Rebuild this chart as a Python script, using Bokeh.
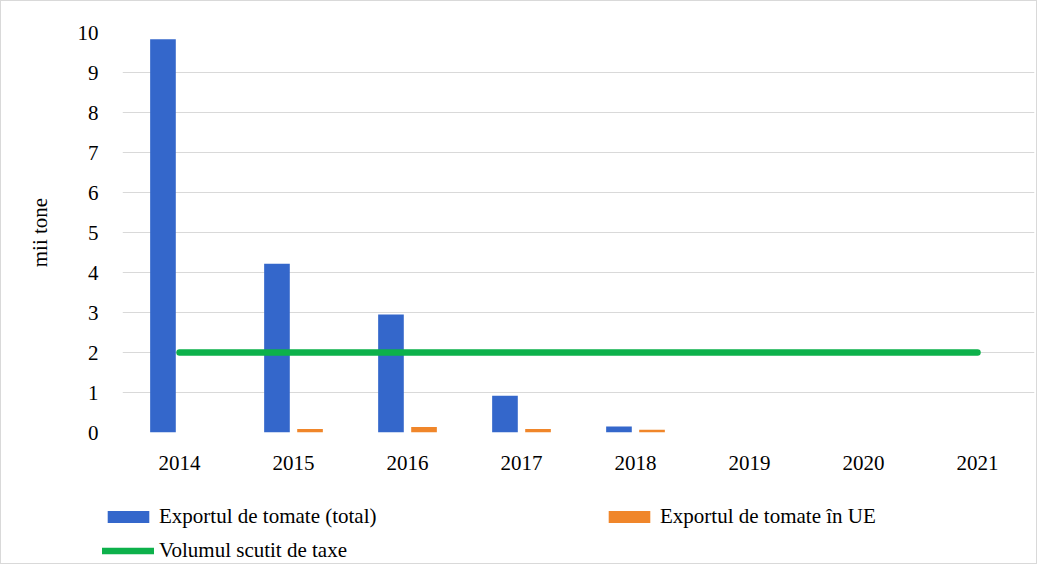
from bokeh.plotting import figure
from bokeh.layouts import column
from bokeh.models import ColumnDataSource, FactorRange, Range1d, Legend, LegendItem, FixedTicker
from bokeh.transform import dodge
from bokeh.embed import file_html
from bokeh.resources import INLINE

years = ["2014", "2015", "2016", "2017", "2018", "2019", "2020", "2021"]
export_total = [9.83, 4.22, 2.95, 0.92, 0.15, 0.0, 0.0, 0.0]
export_eu = [0.0, 0.09, 0.14, 0.09, 0.07, 0.0, 0.0, 0.0]
duty_free = [2, 2, 2, 2, 2, 2, 2, 2]
legend_labels = ["Exportul de tomate (total)", "Exportul de tomate în UE", "Volumul scutit de taxe"]

FONT = "Liberation Serif"
BLUE = "#3467CB"
ORANGE = "#F0862A"
GREEN = "#0DB14B"

src = ColumnDataSource(dict(years=years, total=export_total, eu=export_eu, free=duty_free))

p = figure(
    x_range=FactorRange(*years, range_padding=0),
    y_range=Range1d(0, 10),
    width=1035, height=490,
    output_backend="svg", toolbar_location=None,
    min_border_left=121, min_border_right=2, min_border_top=31, min_border_bottom=59,
)
p.outline_line_color = None

p.vbar(x=dodge("years", -0.145, range=p.x_range), top="total", width=0.225, source=src,
       fill_color=BLUE, line_color=None)
p.vbar(x=dodge("years", 0.145, range=p.x_range), top="eu", width=0.225, source=src,
       fill_color=ORANGE, line_color=None)
p.line(x="years", y="free", source=src, line_color=GREEN, line_width=6.5, line_cap="round")

p.xaxis.axis_line_color = None
p.xaxis.major_tick_line_color = None
p.xaxis.major_tick_out = 0
p.xaxis.major_tick_in = 0
p.xaxis.minor_tick_line_color = None
p.xaxis.major_label_text_font = FONT
p.xaxis.major_label_text_font_size = "21px"
p.xaxis.major_label_text_color = "#000000"
p.xaxis.major_label_standoff = 23
p.xgrid.grid_line_color = None

p.yaxis.ticker = FixedTicker(ticks=list(range(0, 11)))
p.yaxis.axis_line_color = None
p.yaxis.major_tick_line_color = None
p.yaxis.major_tick_out = 0
p.yaxis.major_tick_in = 0
p.yaxis.minor_tick_line_color = None
p.yaxis.major_label_text_font = FONT
p.yaxis.major_label_text_font_size = "21px"
p.yaxis.major_label_text_color = "#000000"
p.yaxis.major_label_standoff = 24
p.yaxis.axis_label = "mii tone"
p.yaxis.axis_label_text_font = FONT
p.yaxis.axis_label_text_font_size = "21px"
p.yaxis.axis_label_text_font_style = "normal"
p.yaxis.axis_label_text_color = "#000000"
p.yaxis.axis_label_standoff = 23
p.ygrid.grid_line_color = "#d9d9d9"
p.ygrid.grid_line_width = 1

# legend strip below the chart (its own y range keeps the proxy glyphs out of view)
lg = figure(width=1035, height=72, x_range=FactorRange(*years, range_padding=0), y_range=Range1d(100, 172),
            x_axis_location=None, y_axis_location=None,
            output_backend="svg", toolbar_location=None,
            min_border_left=0, min_border_right=0, min_border_top=0, min_border_bottom=0)
lg.outline_line_color = None
lg.xgrid.grid_line_color = None
lg.ygrid.grid_line_color = None

off = 0
try:
    p.frame_align = False
    lg.frame_align = False
except Exception:
    lg.min_border_left = 121
    lg.min_border_right = 2
    off = 121

g_total = lg.vbar(x="years", top="total", width=0.225, source=src, fill_color=BLUE, line_color=None)
g_eu = lg.vbar(x="years", top="eu", width=0.225, source=src, fill_color=ORANGE, line_color=None)
g_free = lg.line(x="years", y="free", source=src, line_color=GREEN, line_width=6.5, line_cap="round")


def add_legend(label, renderer, loc):
    leg = Legend(items=[LegendItem(label=label, renderers=[renderer])], location=(loc[0] - off, loc[1]),
                 orientation="horizontal", padding=0, margin=0, spacing=0,
                 border_line_color=None, background_fill_alpha=0,
                 glyph_width=52, glyph_height=15, label_standoff=5, label_height=24,
                 label_text_font=FONT, label_text_font_size="21px", label_text_color="#000000")
    lg.add_layout(leg, "center")


add_legend(legend_labels[0], g_total, (101, 34))
add_legend(legend_labels[1], g_eu, (602, 34))
add_legend(legend_labels[2], g_free, (101, 0))

layout = column(p, lg, spacing=0, styles={"border": "1px solid #d9d9d9"})
open("out.html", "w").write(file_html(layout, INLINE))
